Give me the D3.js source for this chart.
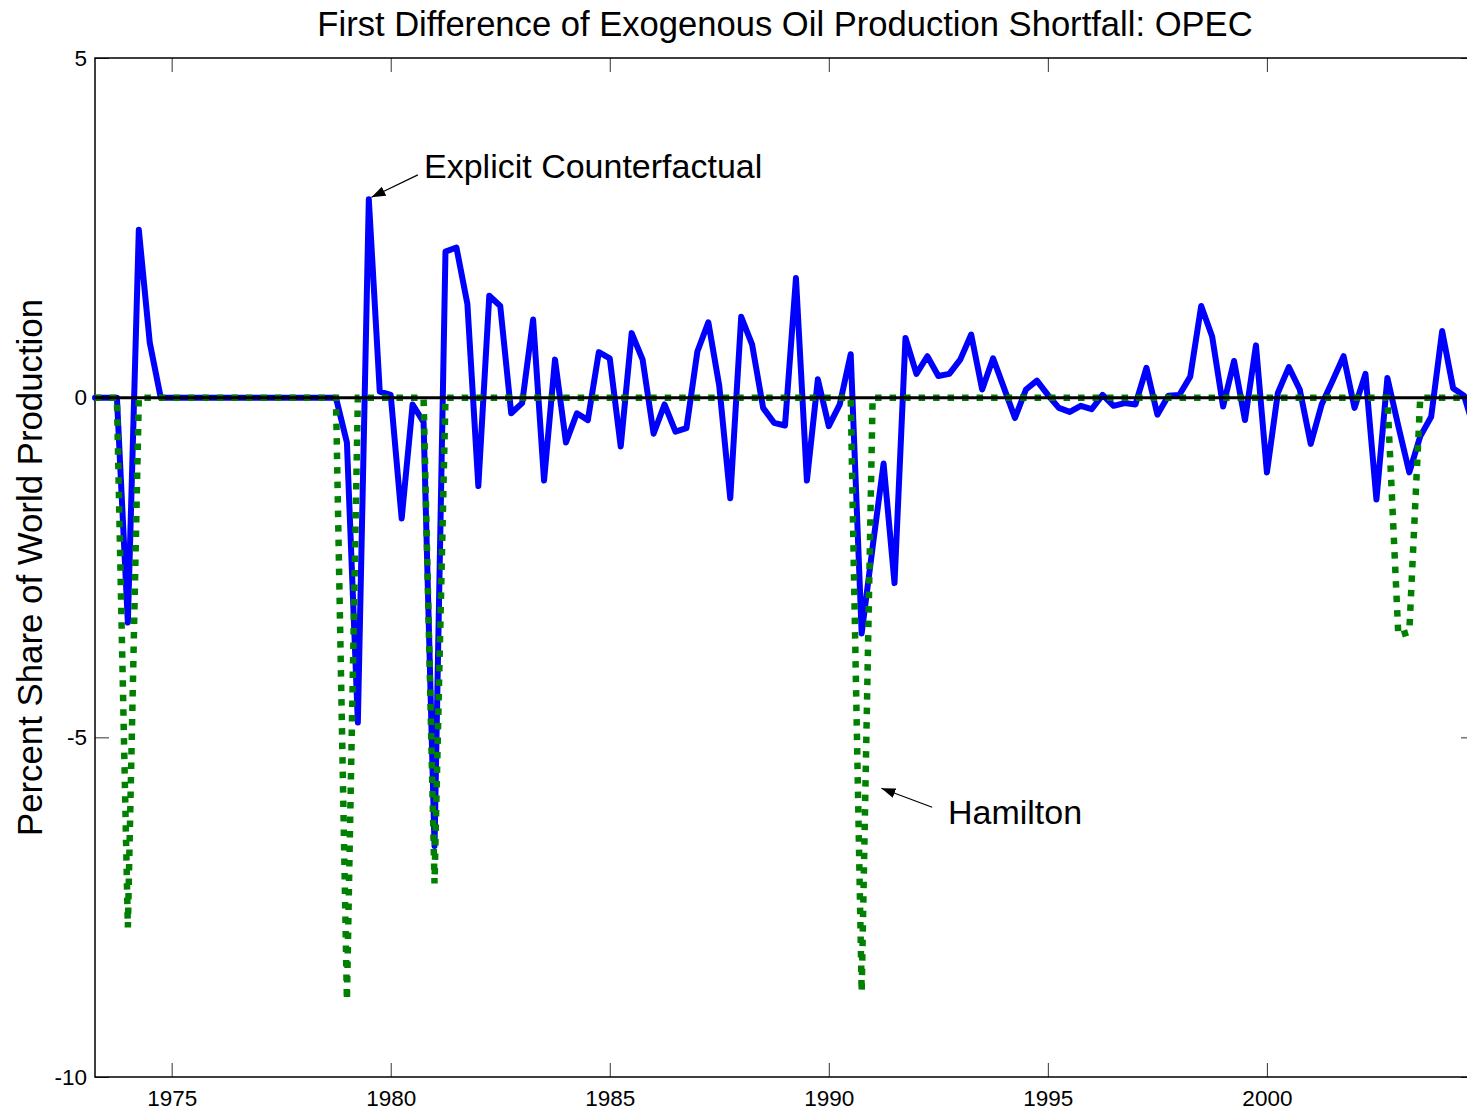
<!DOCTYPE html>
<html>
<head>
<meta charset="utf-8">
<script src="https://cdn.jsdelivr.net/npm/d3@7"></script>
<style>
  body { margin: 0; background: #fff; }
  text { font-family: "Liberation Sans", Arial, sans-serif; fill: #000; }
</style>
</head>
<body>
<div id="shortfall"></div>
<script>
// quarterly dates 1973Q2 .. 2004Q4
var firstQuarter = 1973.25, lastQuarter = 2004.75;
var quarters = d3.range(firstQuarter, lastQuarter + 0.01, 0.25);

// explicit counterfactual (blue), one row per year
var counterfactual = [
           0,     0,     0,
  -3.31,  2.47,  0.81,     0,
      0,     0,     0,     0,
      0,     0,     0,     0,
      0,     0,     0,     0,
      0,     0,     0,     0,
  -0.66, -4.78,  2.92,  0.09,
   0.04, -1.78, -0.10, -0.36,
  -6.60,  2.15,  2.21,  1.38,
  -1.30,  1.50,  1.35, -0.23,
  -0.08,  1.15, -1.22,  0.56,
  -0.66, -0.23, -0.33,  0.67,
   0.58, -0.72,  0.95,  0.56,
  -0.53, -0.10, -0.50, -0.45,
   0.68,  1.11,  0.17, -1.48,
   1.19,  0.78, -0.15, -0.37,
  -0.41,  1.76, -1.22,  0.27,
  -0.42, -0.10,  0.64, -3.47,
  -2.20, -0.97, -2.73,  0.88,
   0.35,  0.61,  0.32,  0.35,
   0.56,  0.93,  0.12,  0.58,
   0.14, -0.30,  0.12,  0.25,
   0.04, -0.15, -0.21, -0.12,
  -0.17,  0.04, -0.12, -0.08,
  -0.10,  0.44, -0.25,  0.03,
   0.04,  0.31,  1.35,  0.90,
  -0.13,  0.54, -0.33,  0.77,
  -1.10,  0.07,  0.45,  0.12,
  -0.68, -0.10,  0.25,  0.61,
  -0.15,  0.35, -1.50,  0.29,
  -0.42, -1.10, -0.57, -0.28,
   0.98,  0.14,  0.03, -0.50
];

// hamilton (green dotted)
var hamilton = [
           0,     0,     0,
  -7.80,     0,     0,     0,
      0,     0,     0,     0,
      0,     0,     0,     0,
      0,     0,     0,     0,
      0,     0,     0,     0,
  -8.87,     0,     0,     0,
      0,     0,     0,     0,
  -7.15,     0,     0,     0,
      0,     0,     0,     0,
      0,     0,     0,     0,
      0,     0,     0,     0,
      0,     0,     0,     0,
      0,     0,     0,     0,
      0,     0,     0,     0,
      0,     0,     0,     0,
      0,     0,     0,     0,
      0,     0,     0, -8.75,
      0,     0,     0,     0,
      0,     0,     0,     0,
      0,     0,     0,     0,
      0,     0,     0,     0,
      0,     0,     0,     0,
      0,     0,     0,     0,
      0,     0,     0,     0,
      0,     0,     0,     0,
      0,     0,     0,     0,
      0,     0,     0,     0,
      0,     0,     0,     0,
      0,     0,     0,     0,
  -3.50, -3.45,     0,     0,
      0,     0,     0,     0
];

var xTicks = [1975, 1980, 1985, 1990, 1995, 2000];
var yTicks = [-10, -5, 0, 5];

var titleText = "First Difference of Exogenous Oil Production Shortfall: OPEC";
var yLabel = "Percent Share of World Production";

// set dimensions, the right edge of the axes runs past the picture
var W = 1467, H = 1114;
var margin = {top: 58, left: 95},
    width = 1380,
    height = 1019;

var svg = d3.select("#shortfall")
  .append("svg")
    .attr("width", W)
    .attr("height", H);

var x = d3.scaleLinear()
  .domain([firstQuarter, lastQuarter])
  .range([margin.left, margin.left + width]);

var y = d3.scaleLinear()
  .domain([-10, 5])
  .range([margin.top + height, margin.top]);

// plain hyphen minus like the original
var plain = function(d) { return String(d); };

// axes, ticks point inward like matlab
function styleAxis(g) {
  g.attr("font-family", null).attr("font-size", null);
  g.select(".domain").remove();
  g.selectAll(".tick line").attr("stroke", "#333").attr("stroke-width", 1);
  g.selectAll(".tick text")
    .style("font-family", "'Liberation Sans', Arial, sans-serif")
    .style("font-size", "22.5px")
    .attr("fill", "#000");
}

svg.append("g")
  .attr("transform", "translate(0," + y(-10) + ")")
  .call(d3.axisBottom(x).tickValues(xTicks).tickFormat(plain)
    .tickSizeInner(-14).tickSizeOuter(0).tickPadding(13))
  .call(styleAxis)
  .selectAll(".tick text").attr("dy", "0.71em");

svg.append("g")
  .attr("transform", "translate(0," + y(5) + ")")
  .call(d3.axisTop(x).tickValues(xTicks).tickFormat("")
    .tickSizeInner(-14).tickSizeOuter(0))
  .call(styleAxis);

svg.append("g")
  .attr("transform", "translate(" + x(firstQuarter) + ",0)")
  .call(d3.axisLeft(y).tickValues(yTicks).tickFormat(plain)
    .tickSizeInner(-14).tickSizeOuter(0).tickPadding(8))
  .call(styleAxis);

svg.append("g")
  .attr("transform", "translate(" + x(lastQuarter) + ",0)")
  .call(d3.axisRight(y).tickValues(yTicks).tickFormat("")
    .tickSizeInner(-14).tickSizeOuter(0))
  .call(styleAxis);

// frame
svg.append("rect")
  .attr("x", x(firstQuarter))
  .attr("y", y(5))
  .attr("width", x(lastQuarter) - x(firstQuarter))
  .attr("height", y(-10) - y(5))
  .attr("fill", "none")
  .attr("stroke", "#000")
  .attr("stroke-width", 1.5);

var line = d3.line()
  .x(function(d, i) { return x(quarters[i]); })
  .y(function(d) { return y(d); });

// blue counterfactual
svg.append("path")
  .datum(counterfactual)
  .attr("fill", "none")
  .attr("stroke", "#0000ff")
  .attr("stroke-width", 6)
  .attr("stroke-linejoin", "round")
  .attr("stroke-linecap", "round")
  .attr("d", line);

// green dotted hamilton
svg.append("path")
  .datum(hamilton)
  .attr("fill", "none")
  .attr("stroke", "#008000")
  .attr("stroke-width", 6.5)
  .attr("stroke-dasharray", "6.5,8")
  .attr("d", line);

// zero line
svg.append("line")
  .attr("x1", x(firstQuarter)).attr("x2", x(lastQuarter))
  .attr("y1", y(0)).attr("y2", y(0))
  .attr("stroke", "#000")
  .attr("stroke-width", 3);

// title and y label
svg.append("text")
  .attr("x", (x(firstQuarter) + x(lastQuarter)) / 2)
  .attr("y", 36)
  .attr("text-anchor", "middle")
  .style("font-size", "34.6px")
  .text(titleText);

svg.append("text")
  .attr("transform", "translate(42," + (y(5) + y(-10)) / 2 + ") rotate(-90)")
  .attr("text-anchor", "middle")
  .style("font-size", "34.8px")
  .text(yLabel);

// annotations with arrows
svg.append("defs").append("marker")
  .attr("id", "head")
  .attr("viewBox", "0 0 14 10")
  .attr("refX", 14).attr("refY", 5)
  .attr("markerWidth", 14).attr("markerHeight", 10)
  .attr("markerUnits", "userSpaceOnUse")
  .attr("orient", "auto")
  .append("path")
    .attr("d", "M0,0L14,5L0,10Z")
    .attr("fill", "#000");

var notes = [
  {label: "Explicit Counterfactual", tx: 1980.76, ty: 3.24, from: [1980.62, 3.28], to: [1979.56, 2.95]},
  {label: "Hamilton", tx: 1992.72, ty: -6.28, from: [1992.36, -6.03], to: [1991.2, -5.75]}
];

notes.forEach(function(n) {
  svg.append("line")
    .attr("x1", x(n.from[0])).attr("y1", y(n.from[1]))
    .attr("x2", x(n.to[0])).attr("y2", y(n.to[1]))
    .attr("stroke", "#000")
    .attr("stroke-width", 1.2)
    .attr("marker-end", "url(#head)");
  svg.append("text")
    .attr("x", x(n.tx))
    .attr("y", y(n.ty))
    .style("font-size", "34px")
    .text(n.label);
});
</script>
</body>
</html>
